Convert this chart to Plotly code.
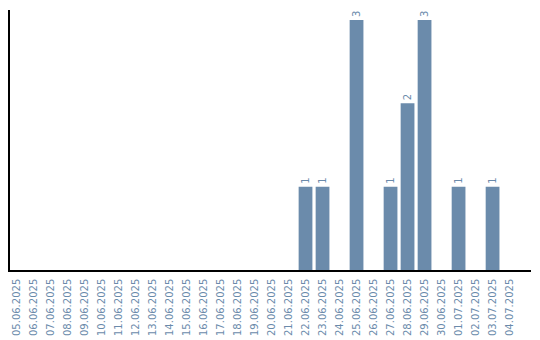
import plotly.graph_objects as go

dates = ["05.06.2025","06.06.2025","07.06.2025","08.06.2025","09.06.2025","10.06.2025",
         "11.06.2025","12.06.2025","13.06.2025","14.06.2025","15.06.2025","16.06.2025",
         "17.06.2025","18.06.2025","19.06.2025","20.06.2025","21.06.2025","22.06.2025",
         "23.06.2025","24.06.2025","25.06.2025","26.06.2025","27.06.2025","28.06.2025",
         "29.06.2025","30.06.2025","01.07.2025","02.07.2025","03.07.2025","04.07.2025"]
counts = [0,0,0,0,0,0,0,0,0,0,0,0,0,0,0,0,0,1,1,0,3,0,1,2,3,0,1,0,1,0]

bar_color = "#6b8bab"
label_color = "#6b8bab"

texts = [str(c) if c > 0 else "" for c in counts]

fig = go.Figure(go.Bar(
    x=dates, y=counts, marker_color=bar_color, marker_line_width=0,
    text=texts, textposition="outside", textangle=-90,
    textfont=dict(color=label_color, size=10, family="DejaVu Sans"),
    cliponaxis=False,
))
fig.update_layout(
    width=540, height=340,
    margin=dict(l=10, r=9, t=10, b=70, autoexpand=False),
    plot_bgcolor="white", paper_bgcolor="white",
    bargap=0.19, showlegend=False,
)
fig.update_xaxes(type="category", tickangle=-90, showgrid=False,
                 range=[-0.38, 30.26], automargin=False,
                 showline=True, linecolor="black", linewidth=1.5,
                 tickfont=dict(color=label_color, size=10, family="DejaVu Sans"),
                 ticks="", ticklabelstandoff=3)
fig.update_yaxes(range=[0, 3.12], showgrid=False, showticklabels=False,
                 showline=True, linecolor="black", linewidth=1.5, ticks="", zeroline=False)
fig.write_html("out.html")
